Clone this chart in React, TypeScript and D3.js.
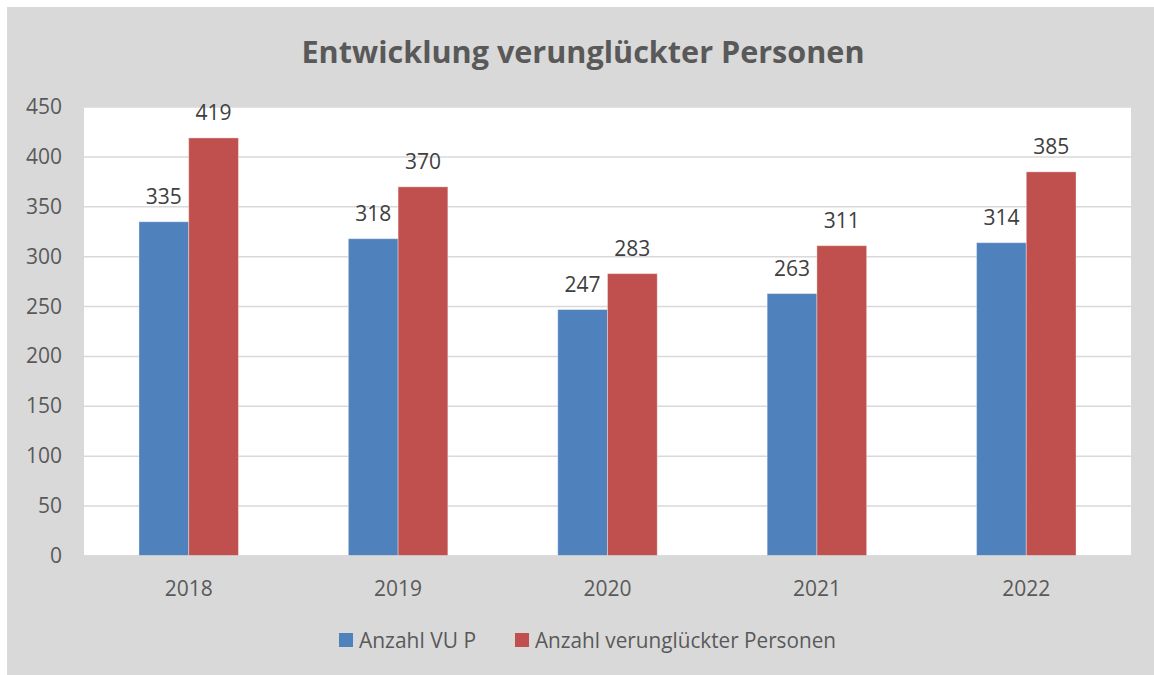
import { useRef, useEffect } from 'react';
import * as d3 from 'd3';

const years = ['2018', '2019', '2020', '2021', '2022'];
const vuP = [335, 318, 247, 263, 314];
const verunglueckte = [419, 370, 283, 311, 385];
const seriesNames = ['Anzahl VU P', 'Anzahl verunglückter Personen'];
const seriesColors = ['#4f81bd', '#c0504d'];
const yTicks = [0, 50, 100, 150, 200, 250, 300, 350, 400, 450];

const W = 1154;
const H = 675;
const FONT = "'Open Sans', 'Liberation Sans', sans-serif";

export default function App() {
  const svgRef = useRef<SVGSVGElement | null>(null);

  useEffect(() => {
    const svg = d3.select(svgRef.current);
    svg.selectAll('*').remove();

    const margin = { top: 107, right: 23, bottom: 119, left: 84 };
    const width = W - margin.left - margin.right;
    const height = H - margin.top - margin.bottom;

    // chart background
    svg
      .append('rect')
      .attr('x', 7)
      .attr('y', 7)
      .attr('width', W - 7)
      .attr('height', H - 7)
      .attr('fill', '#d9d9d9');

    svg
      .append('text')
      .attr('x', 583)
      .attr('y', 63)
      .attr('text-anchor', 'middle')
      .attr('font-family', FONT)
      .attr('font-weight', 'bold')
      .attr('font-size', 31)
      .attr('fill', '#595959')
      .attr('textLength', 563)
      .attr('lengthAdjust', 'spacingAndGlyphs')
      .text('Entwicklung verunglückter Personen');

    const g = svg
      .append('g')
      .attr('transform', `translate(${margin.left}, ${margin.top})`);

    g.append('rect')
      .attr('width', width)
      .attr('height', height)
      .attr('fill', '#ffffff');

    const xScale = d3.scaleBand().domain(years).range([0, width]);
    const inner = d3
      .scaleBand()
      .domain(['0', '1'])
      .range([0, xScale.bandwidth() * 0.475])
      .padding(0);
    const yScale = d3.scaleLinear().domain([0, 450]).range([height, 0]);

    const offset = (xScale.bandwidth() - inner.range()[1]) / 2;

    g.selectAll('line.grid')
      .data(yTicks)
      .enter()
      .append('line')
      .attr('class', 'grid')
      .attr('x1', 0)
      .attr('x2', width)
      .attr('y1', (d) => yScale(d))
      .attr('y2', (d) => yScale(d))
      .attr('stroke', '#d9d9d9')
      .attr('stroke-width', 1.5);

    g.selectAll('text.ytick')
      .data(yTicks)
      .enter()
      .append('text')
      .attr('class', 'ytick')
      .attr('x', -22)
      .attr('y', (d) => yScale(d) + 7)
      .attr('text-anchor', 'end')
      .attr('font-family', FONT)
      .attr('font-size', 21)
      .attr('fill', '#595959')
      .text((d) => d);

    const series = [vuP, verunglueckte];
    series.forEach((values, si) => {
      const data = years.map((year, i) => ({ year, value: values[i] }));
      const x = (d: { year: string }) =>
        (xScale(d.year) as number) + offset + (inner(String(si)) as number);

      g.selectAll(`rect.bar${si}`)
        .data(data)
        .enter()
        .append('rect')
        .attr('class', `bar${si}`)
        .attr('x', x)
        .attr('y', (d) => yScale(d.value))
        .attr('width', inner.bandwidth())
        .attr('height', (d) => height - yScale(d.value))
        .attr('fill', seriesColors[si])
        .attr('stroke', 'rgba(255,255,255,0.35)')
        .attr('stroke-width', 1);

      g.selectAll(`text.label${si}`)
        .data(data)
        .enter()
        .append('text')
        .attr('class', `label${si}`)
        .attr('x', (d) => x(d) + inner.bandwidth() / 2)
        .attr('y', (d) => yScale(d.value) - 18)
        .attr('text-anchor', 'middle')
        .attr('font-family', FONT)
        .attr('font-size', 21)
        .attr('fill', '#404040')
        .text((d) => d.value);
    });

    g.append('line')
      .attr('x1', 0)
      .attr('x2', width)
      .attr('y1', height)
      .attr('y2', height)
      .attr('stroke', '#d9d9d9')
      .attr('stroke-width', 1.5);

    g.selectAll('text.xtick')
      .data(years)
      .enter()
      .append('text')
      .attr('class', 'xtick')
      .attr('x', (d) => (xScale(d) as number) + xScale.bandwidth() / 2)
      .attr('y', height + 40)
      .attr('text-anchor', 'middle')
      .attr('font-family', FONT)
      .attr('font-size', 21)
      .attr('fill', '#595959')
      .text((d) => d);

    // legend
    const legend = [
      { square: 339, text: 359, len: 117 },
      { square: 515, text: 535, len: 301 },
    ];
    legend.forEach((l, i) => {
      svg
        .append('rect')
        .attr('x', l.square)
        .attr('y', 633)
        .attr('width', 14)
        .attr('height', 14)
        .attr('fill', seriesColors[i]);
      svg
        .append('text')
        .attr('x', l.text)
        .attr('y', 648)
        .attr('font-family', FONT)
        .attr('font-size', 21)
        .attr('fill', '#595959')
        .attr('textLength', l.len)
        .attr('lengthAdjust', 'spacingAndGlyphs')
        .text(seriesNames[i]);
    });

    return () => {
      svg.selectAll('*').remove();
    };
  }, []);

  return (
    <svg
      ref={svgRef}
      width={W}
      height={H}
      style={{ position: 'absolute', left: 0, top: 0, background: '#ffffff' }}
    />
  );
}
